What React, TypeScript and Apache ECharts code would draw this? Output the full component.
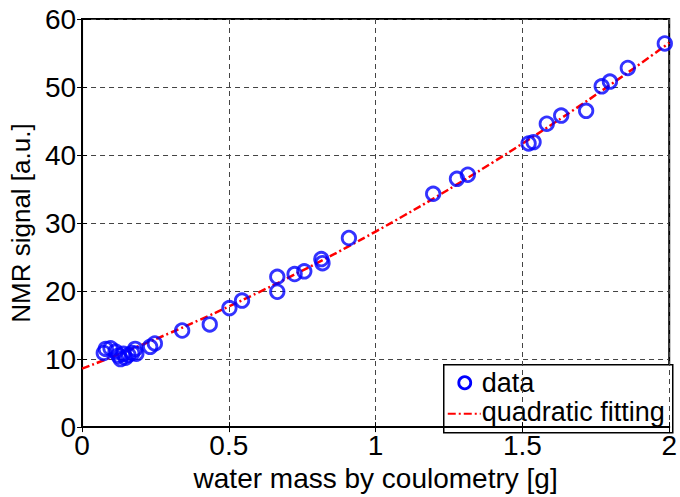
import React, { useEffect, useRef } from "react";
import * as echarts from "echarts";

const dataX = [0.074, 0.081, 0.097, 0.114, 0.124, 0.131, 0.141, 0.148, 0.158, 0.171, 0.181, 0.185, 0.232, 0.248,
  0.341, 0.435, 0.502, 0.545, 0.665, 0.665, 0.724, 0.757, 0.815, 0.819, 0.909,
  1.196, 1.277, 1.314, 1.521, 1.538, 1.583, 1.632, 1.717, 1.770, 1.798, 1.859, 1.985];
const dataY = [10.9, 11.5, 11.6, 11.1, 10.5, 10.0, 10.8, 10.2, 10.6, 10.9, 11.5, 10.8, 11.8, 12.3,
  14.2, 15.1, 17.5, 18.6, 22.1, 19.9, 22.5, 22.9, 24.7, 24.1, 27.8,
  34.3, 36.5, 37.1, 41.7, 41.9, 44.6, 45.8, 46.5, 50.1, 50.8, 52.8, 56.4];

const fitX = [0, 0.1, 0.2, 0.3, 0.4, 0.5, 0.6, 0.7, 0.8, 0.9, 1.0, 1.1, 1.2, 1.3, 1.4, 1.5, 1.6, 1.7, 1.8, 1.9, 2.0];
const fitY = [8.6, 10.27, 12.02, 13.85, 15.75, 17.73, 19.78, 21.91, 24.11, 26.39, 28.75, 31.18, 33.69, 36.28, 38.94, 41.68, 44.49, 47.38, 50.34, 53.38, 56.5];

const xTicks = [0, 0.5, 1, 1.5, 2];
const yTicks = [0, 10, 20, 30, 40, 50, 60];

const FONT = "'Liberation Sans', Arial, sans-serif";

export default function App() {
  const ref = useRef<HTMLDivElement>(null);
  useEffect(() => {
    const chart = echarts.init(ref.current!, null, { renderer: "svg" });
    const gridLine = { show: true, lineStyle: { color: "#444", type: [5, 4] as any, width: 1 } };
    chart.setOption({
      animation: false,
      backgroundColor: "#fff",
      grid: { left: 81, top: 19, right: 3, bottom: 60, show: true, borderColor: "#000", borderWidth: 2, backgroundColor: "transparent" },
      xAxis: [
        {
          type: "value", min: xTicks[0], max: xTicks[xTicks.length - 1], interval: 0.5,
          name: "water mass by coulometry [g]", nameLocation: "middle", nameGap: 29,
          nameTextStyle: { fontFamily: FONT, fontSize: 28, color: "#000" },
          axisLine: { show: true, lineStyle: { color: "#000", width: 2 } },
          axisTick: { show: true, inside: true, length: 5, lineStyle: { color: "#000", width: 1 } },
          axisLabel: { fontFamily: FONT, fontSize: 28, color: "#000", margin: 6, lineHeight: 24 },
          splitLine: gridLine,
        },
        {
          type: "value", position: "top", min: 0, max: 2, interval: 0.5,
          axisLine: { show: true, lineStyle: { color: "#000", width: 2 } },
          axisTick: { show: true, inside: true, length: 5, lineStyle: { color: "#000", width: 1 } },
          axisLabel: { show: false }, splitLine: { show: false },
        },
      ],
      yAxis: [
        {
          type: "value", min: yTicks[0], max: yTicks[yTicks.length - 1], interval: 10,
          name: "NMR signal [a.u.]", nameLocation: "middle", nameGap: 43,
          nameTextStyle: { fontFamily: FONT, fontSize: 26, color: "#000" },
          axisLine: { show: true, lineStyle: { color: "#000", width: 2 } },
          axisTick: { show: true, inside: true, length: 5, lineStyle: { color: "#000", width: 1 } },
          axisLabel: { fontFamily: FONT, fontSize: 28, color: "#000", margin: 6, lineHeight: 22 },
          splitLine: gridLine,
        },
        {
          type: "value", position: "right", min: 0, max: 60, interval: 10,
          axisLine: { show: true, lineStyle: { color: "#000", width: 2 } },
          axisTick: { show: true, inside: true, length: 5, lineStyle: { color: "#000", width: 1 } },
          axisLabel: { show: false }, splitLine: { show: false },
        },
      ],
      series: [
        {
          name: "quadratic fitting", type: "line", smooth: true, showSymbol: false, symbol: "none",
          data: fitX.map((x, i) => [x, fitY[i]]),
          lineStyle: { color: "#ff0000", width: 2.5, type: [8, 3, 2, 3] as any },
          z: 2,
        },
        {
          name: "data", type: "scatter", symbol: "circle", symbolSize: 13.5,
          data: dataX.map((x, i) => [x, dataY[i]]),
          itemStyle: { color: "rgba(0,0,0,0)", borderColor: "#0000ff", borderWidth: 2.8 },
          z: 3,
        },
      ],
      graphic: [
        {
          type: "group", left: 443, top: 364, z: 10,
          children: [
            { type: "rect", shape: { x: 0, y: 0, width: 229, height: 68 }, style: { fill: "#fff", stroke: "#000", lineWidth: 1.5 } },
            { type: "circle", shape: { cx: 21, cy: 18, r: 6 }, style: { fill: "none", stroke: "#0000ff", lineWidth: 2.8 } },
            { type: "text", x: 38, y: 18, style: { text: "data", font: `27px ${FONT}`, fill: "#000", verticalAlign: "middle" } },
            { type: "line", shape: { x1: 4, y1: 49, x2: 37, y2: 49 }, style: { stroke: "#ff0000", lineWidth: 2, lineDash: [8, 3, 2, 3] } },
            { type: "text", x: 38, y: 47, style: { text: "quadratic fitting", font: `27px ${FONT}`, fill: "#000", verticalAlign: "middle" } },
          ],
        },
      ],
    });
    return () => chart.dispose();
  }, []);
  return <div ref={ref} style={{ position: "fixed", left: 0, top: 0, width: 680, height: 497 }} />;
}
